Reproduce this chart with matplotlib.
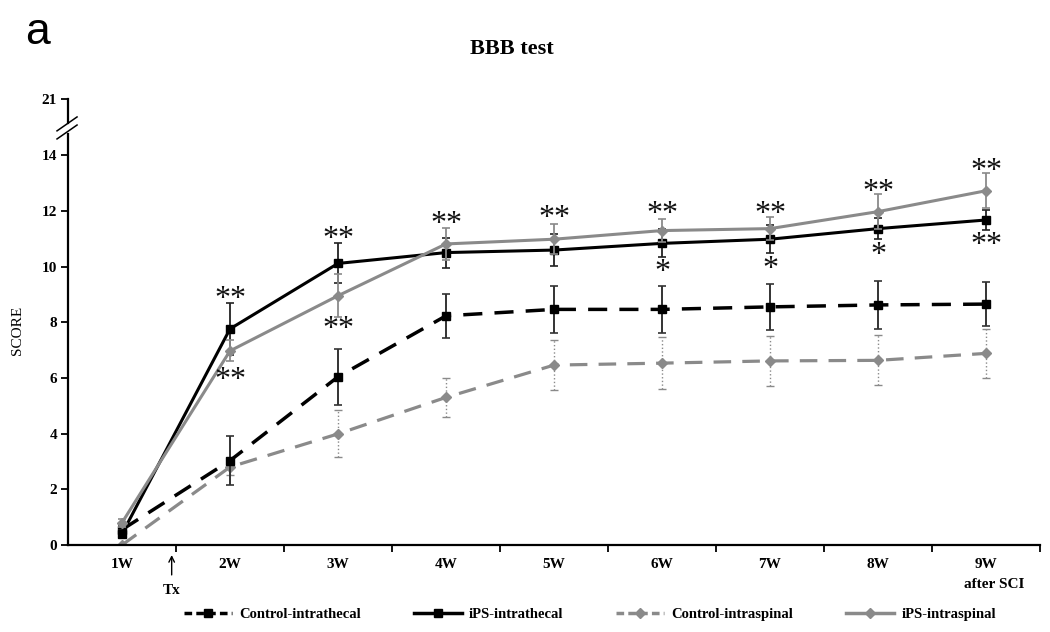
import matplotlib
matplotlib.use("Agg")
import matplotlib.pyplot as plt
from matplotlib.lines import Line2D
import matplotlib.transforms as mtransforms

# ---------------- data ----------------
weeks = ["1W", "2W", "3W", "4W", "5W", "6W", "7W", "8W", "9W"]

ctrl_it = [0.55, 3.03, 6.04, 8.23, 8.46, 8.46, 8.55, 8.62, 8.65]
ctrl_it_err = [0.15, 0.88, 1.00, 0.80, 0.84, 0.84, 0.82, 0.86, 0.80]

ips_it = [0.40, 7.76, 10.11, 10.50, 10.59, 10.83, 10.98, 11.36, 11.67]
ips_it_err = [0.15, 0.94, 0.72, 0.54, 0.57, 0.50, 0.50, 0.37, 0.35]

ctrl_is = [0.00, 2.80, 3.99, 5.30, 6.46, 6.53, 6.61, 6.63, 6.88]
ctrl_is_err = [0.00, 0.30, 0.84, 0.71, 0.90, 0.93, 0.89, 0.90, 0.89]

ips_is = [0.80, 6.97, 8.95, 10.81, 10.98, 11.29, 11.36, 11.97, 12.72]
ips_is_err = [0.15, 0.38, 0.78, 0.58, 0.54, 0.42, 0.41, 0.62, 0.62]

# significance marks: (week index, y value, text)
sig_x = [1, 1, 2, 2, 3, 4, 5, 5, 6, 6, 7, 7, 8, 8]
sig_y = [9.05, 6.14, 11.2, 7.97, 11.74, 11.96, 12.1, 10.02, 12.1, 10.13, 12.89, 10.63, 13.64, 10.99]
sig_txt = ["**", "**", "**", "**", "**", "**", "**", "*", "**", "*", "**", "*", "**", "**"]

yticks = [0, 2, 4, 6, 8, 10, 12, 14, 16]
ytick_labels = ["0", "2", "4", "6", "8", "10", "12", "14", "21"]

labels = ["Control-intrathecal", "iPS-intrathecal", "Control-intraspinal", "iPS-intraspinal"]

# ---------------- figure ----------------
serif = ["Liberation Serif", "DejaVu Serif"]
fig = plt.figure(figsize=(10.5, 6.32), dpi=100)
ax = fig.add_axes([68 / 1050, 87 / 632, 972 / 1050, 16.3 * 27.85 / 632])

x = list(range(len(weeks)))
GRAY = "#8a8a8a"

# Control-intraspinal
e = ax.errorbar(x, ctrl_is, yerr=ctrl_is_err, color=GRAY, lw=2.3, ls=(0, (5.5, 3.5)),
                marker="D", ms=5.5, ecolor=GRAY, elinewidth=1.0, capsize=3, capthick=1.0, zorder=2)
e[2][0].set_linestyle(":")
# Control-intrathecal
e = ax.errorbar(x, ctrl_it, yerr=ctrl_it_err, color="black", lw=2.5, ls=(0, (5.5, 3.5)),
                marker="s", ms=5.5, ecolor="#333333", elinewidth=1.4, capsize=3, capthick=1.2, zorder=3)
# iPS-intrathecal
ax.errorbar(x, ips_it, yerr=ips_it_err, color="black", lw=2.2, ls="-",
            marker="s", ms=5.5, ecolor="#222222", elinewidth=1.3, capsize=3, capthick=1.2, zorder=4)
# iPS-intraspinal
ax.errorbar(x, ips_is, yerr=ips_is_err, color=GRAY, lw=2.2, ls="-",
            marker="D", ms=5.5, ecolor=GRAY, elinewidth=1.3, capsize=3, capthick=1.2, zorder=5)

for xi, yi, t in zip(sig_x, sig_y, sig_txt):
    ax.annotate(t, xy=(xi, yi), xytext=(0, -4.5), textcoords="offset points",
                ha="center", va="center", fontsize=23, family=serif,
                color="#111111", zorder=6)

ax.set_xlim(-0.5, len(weeks) - 0.5)
ax.set_ylim(0, 16.3)

# spines
ax.spines["top"].set_visible(False)
ax.spines["right"].set_visible(False)
ax.spines["left"].set_visible(False)
ax.spines["bottom"].set_linewidth(1.6)
ax.plot([-0.5, -0.5], [0, 14.76], color="black", lw=1.6, clip_on=False, zorder=7)
ax.plot([-0.5, -0.5], [15.15, 16], color="black", lw=1.6, clip_on=False, zorder=7)
bt = mtransforms.blended_transform_factory(ax.transAxes, ax.transData)
ax.plot([-0.0113, 0.0093], [14.87, 15.37], color="black", lw=1.1, transform=bt, clip_on=False)
ax.plot([-0.0113, 0.0093], [14.58, 15.08], color="black", lw=1.1, transform=bt, clip_on=False)

# ticks
ax.set_yticks(yticks)
ax.set_yticklabels(ytick_labels, fontsize=11, fontweight="bold", family=serif)
ax.tick_params(axis="y", direction="out", length=5, width=1.3, pad=3)
ax.set_xticks(x)
ax.set_xticklabels(weeks, fontsize=11, fontweight="bold", family=serif)
ax.set_xticks([i + 0.5 for i in x], minor=True)
ax.tick_params(axis="x", which="major", length=0, pad=9)
ax.tick_params(axis="x", which="minor", direction="out", length=5, width=1.3)

# Tx arrow and labels
bx = mtransforms.blended_transform_factory(ax.transData, ax.transAxes)
ax.annotate("", xy=(0.46, -0.016), xytext=(0.46, -0.072), xycoords=bx, textcoords=bx,
            arrowprops=dict(arrowstyle="->", lw=1.0, color="black", mutation_scale=10))
ax.text(0.46, -0.100, "Tx", transform=bx, ha="center", va="center", fontsize=11,
        fontweight="bold", family=serif)
ax.text(8.08, -0.088, "after SCI", transform=bx, ha="center", va="center", fontsize=11,
        fontweight="bold", family=serif)

fig.text(18 / 1050, 1 - 330 / 632, "SCORE", rotation=90, ha="center", va="center",
         fontsize=11, family=serif)
fig.text(512 / 1050, 1 - 49 / 632, "BBB test", ha="center", va="center", fontsize=16,
         fontweight="bold", family=serif)
fig.text(25 / 1050, 1 - 33 / 632, "a", ha="left", va="center", fontsize=32,
         family=["Liberation Sans", "DejaVu Sans"])

# legend
handles = [
    Line2D([], [], color="black", lw=2.5, ls=(0, (2.2, 1.2)), marker="s", ms=5.5),
    Line2D([], [], color="black", lw=2.5, ls="-", marker="s", ms=5.5),
    Line2D([], [], color=GRAY, lw=2.5, ls=(0, (2.2, 1.2)), marker="D", ms=5),
    Line2D([], [], color=GRAY, lw=2.5, ls="-", marker="D", ms=5),
]
fig.legend(handles, labels, loc="center", bbox_to_anchor=(590 / 1050, 1 - 614 / 632), ncol=4,
           frameon=False, handlelength=3.3, columnspacing=3.6, handletextpad=0.5,
           prop=dict(family=serif, weight="bold", size=10.5))

fig.savefig("out.png", dpi=100)
